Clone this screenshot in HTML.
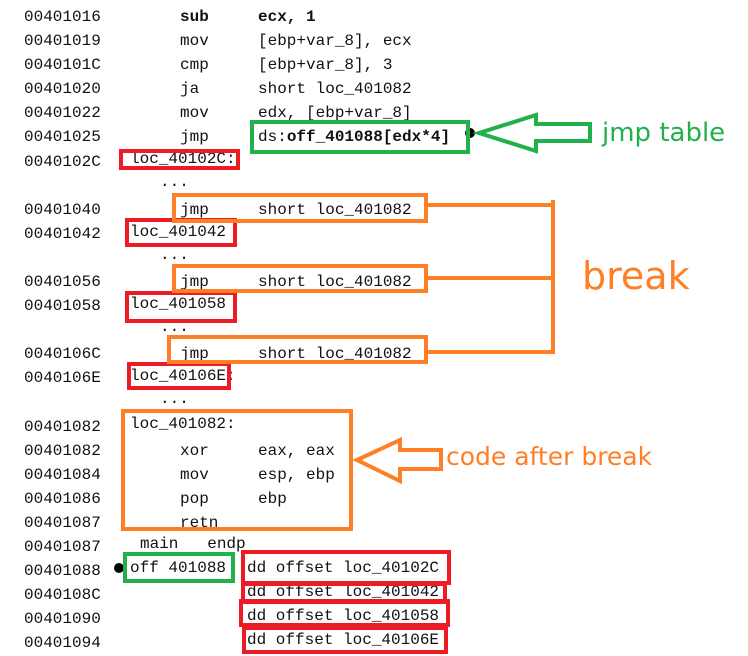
<!DOCTYPE html>
<html><head><meta charset="utf-8"><style>
body{margin:0;width:748px;height:655px;background:#fff;position:relative;overflow:hidden;font-family:"Liberation Mono",monospace;font-size:16px;color:#111}
.t{position:absolute;white-space:pre;line-height:20px}
b{font-weight:bold}
</style></head><body>
<div class="t" style="left:24px;top:5px;line-height:24.1px">00401016
00401019
0040101C
00401020
00401022
00401025
0040102C

00401040
00401042

00401056
00401058

0040106C
0040106E

00401082
00401082
00401084
00401086
00401087
00401087
00401088
0040108C
00401090
00401094</div>
<div class="t" style="left:180px;top:5px;line-height:24.1px"><b>sub</b>
mov
cmp
ja
mov
jmp


jmp


jmp


jmp



xor
mov
pop
retn</div>
<div class="t" style="left:258px;top:5px;line-height:24.1px"><b>ecx, 1</b>
[ebp+var_8], ecx
[ebp+var_8], 3
short loc_401082
edx, [ebp+var_8]
ds:<b>off_401088[edx*4]</b>


short loc_401082


short loc_401082


short loc_401082



eax, eax
esp, ebp
ebp</div>
<div class="t" style="left:130px;top:149px">loc_40102C:</div>
<div class="t" style="left:160px;top:172px">...</div>
<div class="t" style="left:130px;top:222px">loc_401042</div>
<div class="t" style="left:160px;top:245px">...</div>
<div class="t" style="left:130px;top:294px">loc_401058</div>
<div class="t" style="left:160px;top:317px">...</div>
<div class="t" style="left:130px;top:366px">loc_40106E:</div>
<div class="t" style="left:160px;top:389px">...</div>
<div class="t" style="left:130px;top:414px">loc_401082:</div>
<div class="t" style="left:140px;top:534px">main   endp</div>
<div class="t" style="left:130px;top:558px">off 401088</div>
<div class="t" style="left:247px;top:558px">dd offset loc_40102C</div>
<div class="t" style="left:247px;top:582px">dd offset loc_401042</div>
<div class="t" style="left:247px;top:606px">dd offset loc_401058</div>
<div class="t" style="left:247px;top:630px">dd offset loc_40106E</div>
<svg width="748" height="655" style="position:absolute;left:0;top:0" fill="none" stroke-width="4">
<circle cx="470" cy="133" r="5" fill="#000" stroke="none"/>
<circle cx="119" cy="568" r="5" fill="#000" stroke="none"/>
<g stroke="#22b04b">
<rect x="252" y="122" width="216" height="30"/>
<rect x="125" y="554" width="108" height="27"/>
<polygon points="479,133 536,115 536,124 590,124 590,141 536,141 536,151"/>
</g>
<g stroke="#ed1c24">
<rect x="121" y="151" width="117" height="17"/>
<rect x="127" y="220" width="108" height="25"/>
<rect x="127" y="293" width="108" height="28"/>
<rect x="129" y="364" width="100" height="24"/>
<rect x="243" y="552" width="206" height="31"/>
<rect x="243" y="584" width="202" height="18"/>
<rect x="241" y="601" width="207" height="24"/>
<rect x="244" y="628" width="202" height="24"/>
</g>
<g stroke="#ff7f27">
<rect x="174" y="195" width="252" height="26"/>
<rect x="174" y="266" width="252" height="25"/>
<rect x="169" y="337" width="257" height="25"/>
<rect x="123" y="411" width="228" height="118"/>
<path d="M427 205H553M427 278H553M427 352H553M553 200V354"/>
<polygon points="357,460 400,440 400,450 441,450 441,469 400,469 400,481"/>
</g>
</svg>
<div class="t" style="left:602px;top:116px;font-family:'DejaVu Sans',sans-serif;font-size:26px;line-height:34px;color:#22b04b">jmp table</div>
<div class="t" style="left:582px;top:252px;font-family:'DejaVu Sans',sans-serif;font-size:38px;line-height:48px;color:#ff7f27">break</div>
<div class="t" style="left:446px;top:440px;font-family:'DejaVu Sans',sans-serif;font-size:25px;line-height:34px;color:#ff7f27">code after break</div>
</body></html>
